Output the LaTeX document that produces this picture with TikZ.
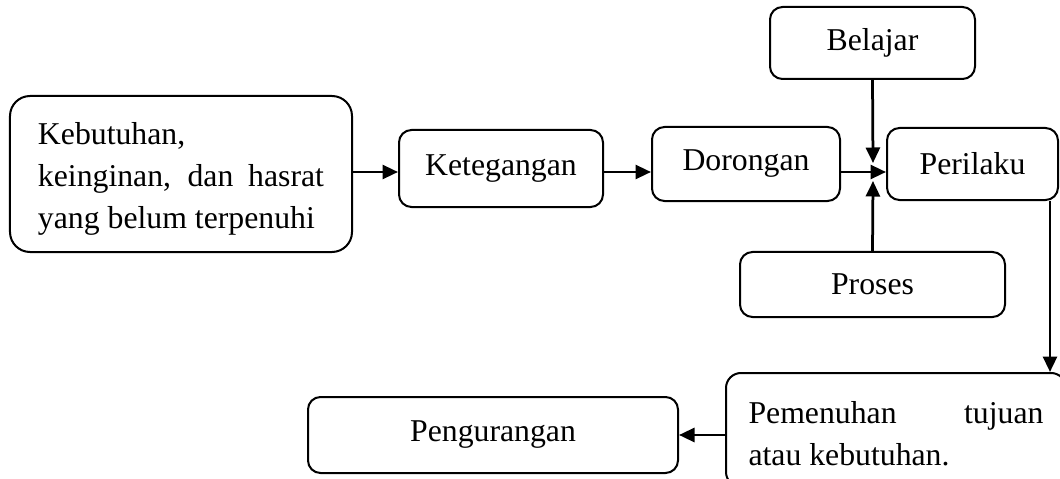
\documentclass[tikz,border=0pt]{standalone}
\usepackage{fontspec}
\setmainfont{Liberation Serif}
\usetikzlibrary{arrows.meta}

\tikzset{
  kotak/.style={draw,line width=0.8pt,rounded corners=5pt,inner sep=0pt,align=center},
  panah/.style={line width=1.1pt,-{Triangle[length=6.2pt,width=5.6pt]}}
}

\begin{document}
\begin{tikzpicture}[x=0.4pt,y=-0.4pt,every node/.style={font=\fontsize{12.7}{16.8}\selectfont}]
\useasboundingbox (0,0) rectangle (1060,479);
\node[kotak,rounded corners=8pt,minimum width=136.8pt,minimum height=62.4pt,text width=114.4pt,align=justify] (need) at (181,174)
  {\rule{0pt}{15.2pt}Kebutuhan,\newline keinginan, dan hasrat\linebreak yang belum terpenuhi\strut};
\node[kotak,minimum width=81.6pt,minimum height=30.8pt] (keteg) at (501,168.5) {Ketegangan};
\node[kotak,minimum width=75.2pt,minimum height=29.6pt] (dorong) at (746,164) {Dorongan};
\node[kotak,minimum width=68.4pt,minimum height=28.8pt] (laku) at (972.5,164) {Perilaku};
\node[kotak,minimum width=82pt,minimum height=28.8pt] (ajar) at (872.5,43) {Belajar};
\node[kotak,minimum width=106pt,minimum height=26pt] (proses) at (872.5,284.5) {Proses};
\node[kotak,rounded corners=6pt,minimum width=136pt,minimum height=45.6pt,text width=118pt,align=justify] (tujuan) at (896,430)
  {\rule{0pt}{12pt}Pemenuhan tujuan\linebreak atau kebutuhan.};
\node[kotak,minimum width=148pt,minimum height=30.4pt] (kurang) at (493,435) {Pengurangan};
\coordinate (temu) at (873,172);
\draw[panah] (need.east |- temu) -- (keteg.west |- temu);
\draw[panah] (keteg.east |- temu) -- (dorong.west |- temu);
\draw[panah] (dorong.east |- temu) -- (laku.west |- temu);
\draw[panah] (ajar.south) -- ([yshift=3.6pt]temu);
\draw[panah] (proses.north) -- ([yshift=-3.6pt]temu);
\draw[panah] ([xshift=-3.6pt]laku.south east) -- ([xshift=-3.6pt]laku.south east |- tujuan.north);
\draw[panah] (tujuan.west |- kurang.east) -- (kurang.east);
\end{tikzpicture}
\end{document}
